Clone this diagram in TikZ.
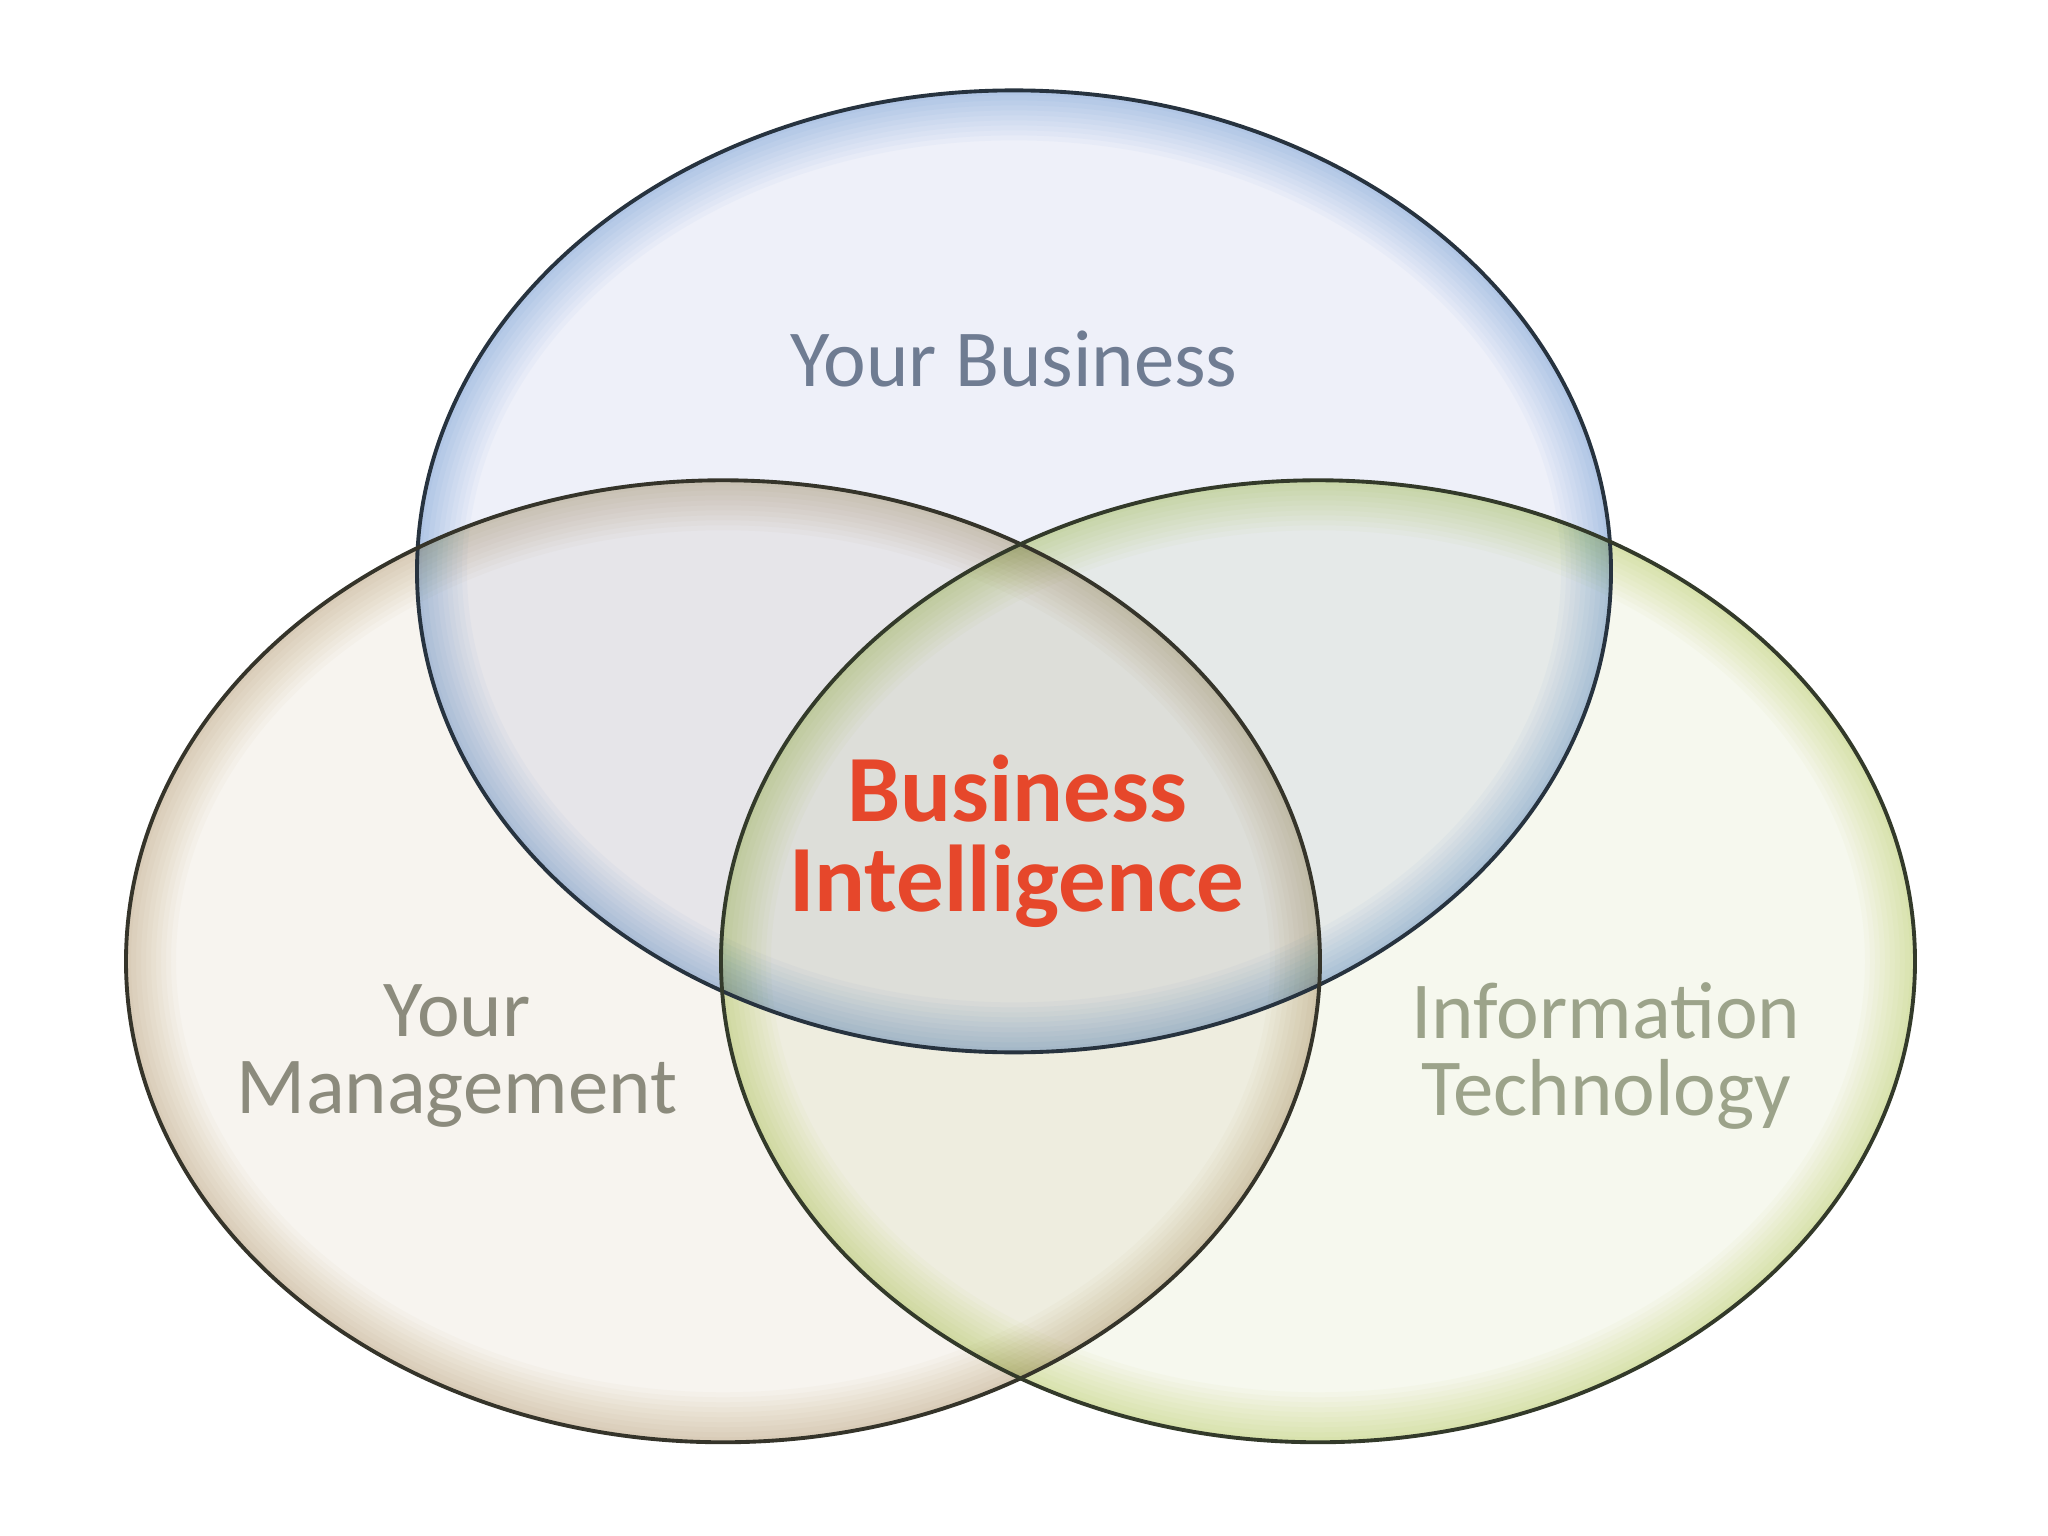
\documentclass[tikz,border=0pt]{standalone}
\usepackage{fontspec}
\setmainfont{Carlito}
\usetikzlibrary{shapes.geometric,calc}

\definecolor{bizfill}{HTML}{EEF0F9}
\definecolor{bizglow}{HTML}{B4CFF0}
\definecolor{bizrim}{HTML}{27333F}
\definecolor{mgmtfill}{HTML}{F7F4EF}
\definecolor{mgmtglow}{HTML}{DDD6BC}
\definecolor{mgmtrim}{HTML}{35342A}
\definecolor{techfill}{HTML}{F6F8EE}
\definecolor{techglow}{HTML}{DDE8AE}
\definecolor{techrim}{HTML}{333A2A}
\definecolor{bizlabel}{HTML}{6F7C92}
\definecolor{mgmtlabel}{HTML}{8C8B7D}
\definecolor{techlabel}{HTML}{9CA38A}
\definecolor{bired}{HTML}{E6472B}

\begin{document}
\begin{tikzpicture}[
  setfill/.style={ellipse, minimum width=11.94cm, minimum height=9.62cm, inner sep=0pt,
    fill=#1fill, blend mode=multiply,
    path picture={
      \foreach \w in {0.1,0.2,...,1.0}
        \draw[#1glow, line width=\w cm, opacity=0.09] (path picture bounding box.center) ellipse [x radius=5.97cm, y radius=4.81cm];
    }},
  rim/.style={draw=#1, line width=1.1pt},
  setname/.style={align=center, font=\fontsize{23pt}{22pt}\selectfont},
  core/.style={align=center, text=bired, font=\fontsize{27pt}{25.6pt}\selectfont\bfseries}
]
\useasboundingbox[fill=white] (0,0) rectangle (20.48,15.36);

% ----- SETS -----
\node[setfill=biz] (biz) at (10.14,9.646) {};
\node[setfill=mgmt] (mgmt) at (7.23,5.747) {};
\node[setfill=tech] (tech) at (13.18,5.747) {};

% ----- OUTLINES (on top of all fills) -----
\draw[rim=bizrim] (biz.center) ellipse [x radius=5.97cm, y radius=4.81cm];
\draw[rim=mgmtrim] (mgmt.center) ellipse [x radius=5.97cm, y radius=4.81cm];
\draw[rim=techrim] (tech.center) ellipse [x radius=5.97cm, y radius=4.81cm];

% ----- LABELS -----
\node[setname, text=bizlabel] (bizname) at ($(biz)+(0,2.12)$) {Your Business};
\node[setname, text=mgmtlabel] (mgmtname) at ($(mgmt)+(-2.66,-0.95)$) {Your\\Management};
\node[setname, text=techlabel] (techname) at ($(tech)+(2.88,-0.95)$) {Information\\Technology};
\node[core] (bi) at (10.17,6.945) {Business\\Intelligence};

\end{tikzpicture}
\end{document}
